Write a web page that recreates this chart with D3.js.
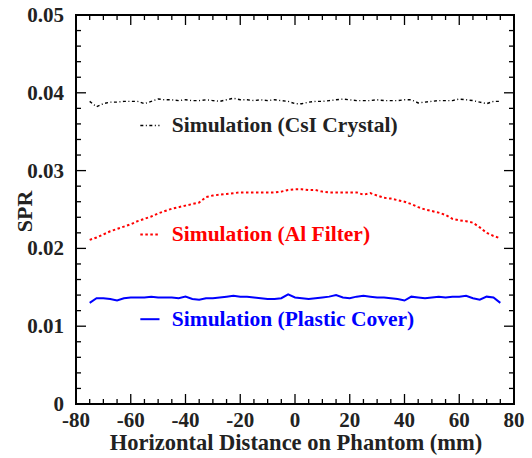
<!DOCTYPE html>
<html>
<head>
<meta charset="utf-8">
<script src="https://cdn.jsdelivr.net/npm/d3@7"></script>
<style>
  body { margin: 0; background: #fff; }
</style>
</head>
<body>
<div id="chart"></div>
<script>
// --- Data ---
const positions = d3.range(-75, 75.01, 2.5); // mm
const csiCrystal = [
  0.0389, 0.0382, 0.0386, 0.0388, 0.0388, 0.0389, 0.0389, 0.0389, 0.0386, 0.0389,
  0.0392, 0.0391, 0.0391, 0.0390, 0.0391, 0.0390, 0.0390, 0.0391, 0.0390, 0.0389,
  0.0391, 0.0393, 0.0391, 0.0391, 0.0390, 0.0391, 0.0390, 0.0391, 0.0390, 0.0389,
  0.0386, 0.0386, 0.0388, 0.0389, 0.0389, 0.0390, 0.0391, 0.0392, 0.0391, 0.0390,
  0.0390, 0.0390, 0.0391, 0.0390, 0.0390, 0.0390, 0.0391, 0.0391, 0.0387, 0.0388,
  0.0389, 0.0390, 0.0390, 0.0390, 0.0392, 0.0391, 0.0390, 0.0388, 0.0386, 0.0389,
  0.0389
];
const alFilter = [
  0.0211, 0.0214, 0.0218, 0.0222, 0.0225, 0.0228, 0.0231, 0.0235, 0.0238, 0.0241,
  0.0245, 0.0248, 0.0251, 0.0253, 0.0255, 0.0257, 0.0259, 0.0266, 0.0268, 0.0269,
  0.0270, 0.0271, 0.0272, 0.0272, 0.0272, 0.0272, 0.0272, 0.0272, 0.0273, 0.0275,
  0.0276, 0.0276, 0.0275, 0.0275, 0.0273, 0.0272, 0.0272, 0.0272, 0.0272, 0.0272,
  0.0269, 0.0271, 0.0268, 0.0265, 0.0264, 0.0262, 0.0260, 0.0257, 0.0253, 0.0250,
  0.0248, 0.0246, 0.0243, 0.0238, 0.0236, 0.0235, 0.0233, 0.0227, 0.0220, 0.0216,
  0.0213
];
const plasticCover = [
  0.0130, 0.0136, 0.0136, 0.0135, 0.0133, 0.0136, 0.0137, 0.0137, 0.0137, 0.0138,
  0.0137, 0.0137, 0.0137, 0.0136, 0.0138, 0.0135, 0.0134, 0.0136, 0.0136, 0.0137,
  0.0138, 0.0139, 0.0138, 0.0138, 0.0137, 0.0136, 0.0135, 0.0135, 0.0136, 0.0141,
  0.0137, 0.0136, 0.0135, 0.0136, 0.0137, 0.0138, 0.0140, 0.0137, 0.0136, 0.0138,
  0.0139, 0.0138, 0.0137, 0.0137, 0.0136, 0.0135, 0.0133, 0.0138, 0.0137, 0.0136,
  0.0137, 0.0138, 0.0137, 0.0138, 0.0138, 0.0139, 0.0136, 0.0134, 0.0138, 0.0137,
  0.0130
];
const xTicks = [-80, -60, -40, -20, 0, 20, 40, 60, 80];
const yTicks = [0, 0.01, 0.02, 0.03, 0.04, 0.05];
const yTickLabels = ["0", "0.01", "0.02", "0.03", "0.04", "0.05"];
const seriesNames = ["Simulation (CsI Crystal)", "Simulation (Al Filter)", "Simulation (Plastic Cover)"];

// --- Layout ---
const width = 532, height = 458;
const margin = { top: 15, right: 18, bottom: 54, left: 76 };
const innerW = width - margin.left - margin.right;
const innerH = height - margin.top - margin.bottom;
const serif = "Liberation Serif";

const svg = d3.select("#chart").append("svg")
  .attr("width", width).attr("height", height);
const g = svg.append("g").attr("transform", `translate(${margin.left},${margin.top})`);

const x = d3.scaleLinear().domain([-80, 80]).range([0, innerW]);
const y = d3.scaleLinear().domain([0, 0.05]).range([innerH, 0]);

// --- Ticks (inward, mirrored on all sides) ---
const xMinor = d3.range(-80, 80.01, 5);
const yMinor = d3.range(0, 0.05001, 0.002);
const isMajorX = v => Math.abs(v % 20) < 1e-6;
const isMajorY = v => Math.abs(Math.round(v / 0.01) * 0.01 - v) < 1e-6;

const ticks = g.append("g").attr("stroke", "#000").attr("stroke-width", 1.3);
xMinor.forEach(v => {
  const len = isMajorX(v) ? 10 : 5;
  ticks.append("line").attr("x1", x(v)).attr("x2", x(v)).attr("y1", innerH).attr("y2", innerH - len);
  ticks.append("line").attr("x1", x(v)).attr("x2", x(v)).attr("y1", 0).attr("y2", len);
});
yMinor.forEach(v => {
  const len = isMajorY(v) ? 10 : 5;
  ticks.append("line").attr("x1", 0).attr("x2", len).attr("y1", y(v)).attr("y2", y(v));
  ticks.append("line").attr("x1", innerW).attr("x2", innerW - len).attr("y1", y(v)).attr("y2", y(v));
});

g.append("rect")
  .attr("width", innerW).attr("height", innerH)
  .attr("fill", "none").attr("stroke", "#000").attr("stroke-width", 2);

// --- Tick labels ---
g.selectAll(".xlab").data(xTicks).enter().append("text")
  .attr("font-family", serif).attr("font-weight", "bold")
  .attr("x", d => x(d)).attr("y", innerH + 23)
  .attr("text-anchor", "middle").attr("font-size", 21).attr("fill", "#222")
  .text(d => d);
g.selectAll(".ylab").data(yTicks).enter().append("text")
  .attr("font-family", serif).attr("font-weight", "bold")
  .attr("x", -12).attr("y", d => y(d) + 7)
  .attr("text-anchor", "end").attr("font-size", 21).attr("fill", "#222")
  .text((d, i) => yTickLabels[i]);

// --- Axis titles ---
svg.append("text")
  .attr("font-family", serif).attr("font-weight", "bold")
  .attr("x", margin.left + innerW / 2 + 1).attr("y", height - 8)
  .attr("text-anchor", "middle").attr("font-size", 22.5).attr("fill", "#222")
  .text("Horizontal Distance on Phantom (mm)");
svg.append("text")
  .attr("font-family", serif).attr("font-weight", "bold")
  .attr("transform", `translate(32,${margin.top + innerH / 2 + 2}) rotate(-90)`)
  .attr("text-anchor", "middle").attr("font-size", 22).attr("fill", "#222")
  .text("SPR");

// --- Lines ---
const line = d3.line().x((d, i) => x(positions[i])).y(d => y(d));
const styles = [
  { data: csiCrystal, color: "#000", width: 1.4, dash: "3,2.5,1,2.5" },
  { data: alFilter, color: "#ff0000", width: 2, dash: "2.5,2.5" },
  { data: plasticCover, color: "#0000ff", width: 2, dash: null }
];
styles.forEach(s => {
  g.append("path").datum(s.data)
    .attr("d", line)
    .attr("fill", "none")
    .attr("stroke", s.color)
    .attr("stroke-width", s.width)
    .attr("stroke-dasharray", s.dash);
});

// --- Legends (placed under each curve) ---
const legendY = [0.0358, 0.0218, 0.0109];
styles.forEach((s, i) => {
  const ly = y(legendY[i]);
  g.append("line")
    .attr("x1", x(-56.5)).attr("x2", x(-49.5))
    .attr("y1", ly).attr("y2", ly)
    .attr("stroke", s.color).attr("stroke-width", s.width)
    .attr("stroke-dasharray", s.dash);
  g.append("text")
    .attr("font-family", serif).attr("font-weight", "bold")
    .attr("x", x(-45)).attr("y", ly + 7)
    .attr("font-size", 21.5)
    .attr("fill", s.color === "#000" ? "#222" : s.color)
    .text(seriesNames[i]);
});
</script>
</body>
</html>
